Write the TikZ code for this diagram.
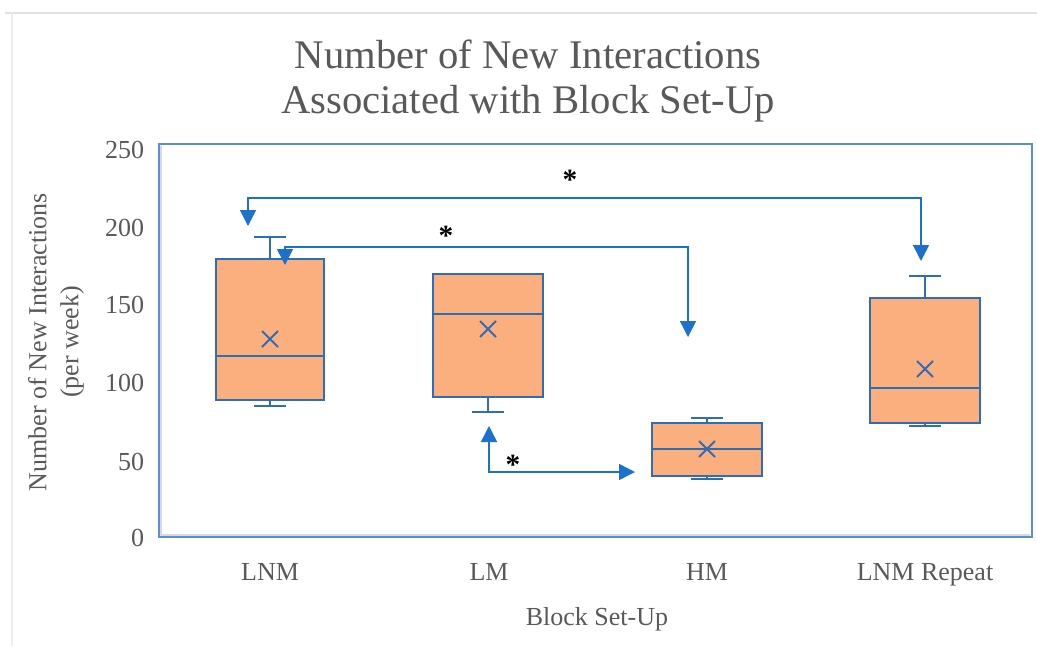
\documentclass[tikz,border=0pt]{standalone}
\usepackage{fontspec}
\setmainfont{Liberation Serif}
\usetikzlibrary{arrows.meta}

\definecolor{boxfill}{HTML}{FBAF7E}
\definecolor{boxedge}{HTML}{2F6DB5}
\definecolor{arrowblue}{HTML}{1C71CC}
\definecolor{frameblue}{HTML}{5A8ED6}
\definecolor{labelgrey}{HTML}{595959}

% one box-and-whisker glyph:
% #1 centre x, #2 half width, #3 upper cap, #4 Q3, #5 median, #6 Q1, #7 lower cap, #8 mean
\newcommand{\bwplot}[8]{%
  \draw[whisk] (#1,#3) -- (#1,#4) (#1,#6) -- (#1,#7);
  \draw[whisk] (#1-16,#3) -- (#1+16,#3) (#1-16,#7) -- (#1+16,#7);
  \draw[boxst] (#1-#2,#4) rectangle (#1+#2,#6);
  \draw[whisk] (#1-#2,#5) -- (#1+#2,#5);
  \draw[meanx] (#1-8,#8-8) -- (#1+8,#8+8) (#1-8,#8+8) -- (#1+8,#8-8);
}

\begin{document}
\begin{tikzpicture}[x=0.75pt,y=-0.75pt,
  every node/.style={inner sep=0pt,outer sep=0pt,text=labelgrey},
  axislabel/.style={font=\fontsize{19.5}{24}\selectfont},
  titlest/.style={font=\fontsize{30.5}{34}\selectfont,anchor=base},
  whisk/.style={draw=boxedge,line width=1.6pt},
  boxst/.style={draw=boxedge,fill=boxfill,line width=1.8pt},
  meanx/.style={draw=boxedge,line width=1.4pt},
  framest/.style={draw=frameblue,line width=1.1pt},
  conn/.style={draw=arrowblue,line width=1.1pt,
    arrows={-Triangle[width=12pt,length=12pt]}},
  conntwo/.style={draw=arrowblue,line width=1.1pt,
    arrows={Triangle[width=12pt,length=12pt]-Triangle[width=12pt,length=12pt]}},
  sig/.style={font=\fontsize{22}{22}\selectfont\bfseries,text=black}]

\useasboundingbox (0,0) rectangle (1037,646);
\fill[white] (0,0) rectangle (1037,646);

% faint sheet gridlines behind the chart
\draw[black!12,line width=0.8pt] (5,13) -- (1037,13);
\draw[black!7,line width=0.8pt] (12,13) -- (12,646);

% title
\node[titlest] (t1) at (528,68) {Number of New Interactions};
\node[titlest] (t2) at (528,113) {Associated with Block Set-Up};

% plot area
\draw[black!15,line width=1.5pt] (161,146) -- (161,535) -- (1030,535);
\draw[framest] (159,144) rectangle (1032,537);

% y axis ticks
\foreach \v/\y in {250/150,200/228,150/305,100/383,50/462,0/538}
  \node[axislabel,anchor=east] (tick\v) at (144,\y) {\v};

\node[axislabel,rotate=90,align=center] (ylab) at (56,342)
  {Number of New Interactions\\(per week)};

% categories
\node[axislabel,anchor=base] (cLNM) at (270,580) {LNM};
\node[axislabel,anchor=base] (cLM) at (489,580) {LM};
\node[axislabel,anchor=base] (cHM) at (707,580) {HM};
\node[axislabel,anchor=base] (cLNMR) at (925,580) {LNM Repeat};
\node[axislabel,anchor=base] (xlab) at (597,625) {Block Set-Up};

% boxes
\bwplot{270}{54}{237}{259}{356}{400}{406}{339}
\bwplot{488}{55}{274}{274}{314}{397}{412}{329}
\bwplot{707}{55}{418}{423}{449}{476}{479}{449}
\bwplot{925}{55}{276}{298}{388}{423}{426}{369}

% significance brackets
\coordinate (aR) at (921,261);
\coordinate (aRc) at (921,198);
\coordinate (aLc) at (248,198);
\coordinate (aL) at (248,226);
\draw[conntwo] (aR) -- (aRc) -- (aLc) -- (aL);
\node[sig] (s1) at (570,180) {*};

\coordinate (bL) at (285,265);
\coordinate (bLc) at (285,247);
\coordinate (bRc) at (688,247);
\coordinate (bR) at (688,337);
\draw[conntwo] (bL) -- (bLc) -- (bRc) -- (bR);
\node[sig] (s2) at (446,236) {*};

\coordinate (cU) at (489,426);
\coordinate (cC) at (489,472);
\coordinate (cR) at (635,472);
\draw[conntwo] (cU) -- (cC) -- (cR);
\node[sig] (s3) at (513,465) {*};

\end{tikzpicture}
\end{document}
